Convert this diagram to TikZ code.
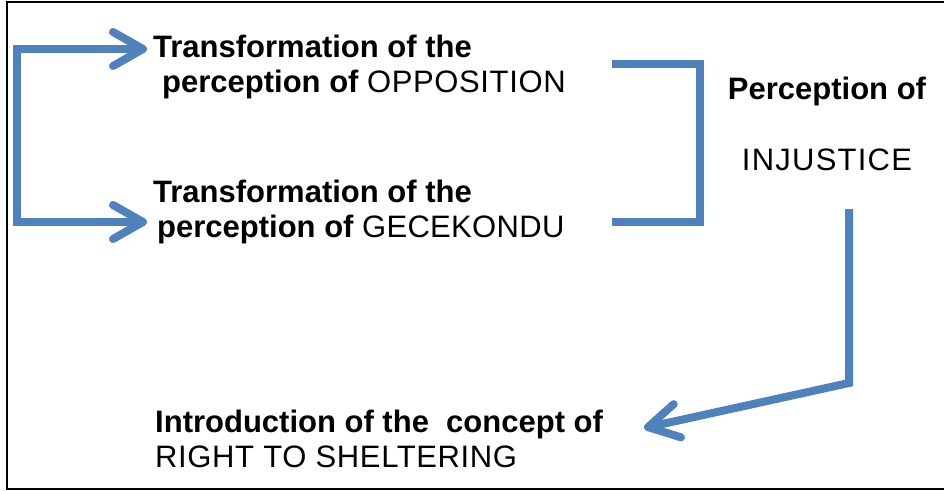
\documentclass[tikz,border=0pt]{standalone}
\usepackage{fontspec}
\setmainfont{Liberation Sans}
\usetikzlibrary{arrows.meta,calc}
\definecolor{flowblue}{HTML}{4F81BD}
% upright capitals with a touch of tracking
\newcommand{\capsword}[2][2]{{\mdseries\addfontfeature{LetterSpace=#1}#2}}
\begin{document}
\begin{tikzpicture}[x=1pt,y=-1pt,
  txt/.style={inner sep=0pt, font=\fontsize{31}{35}\selectfont},
  flow/.style={draw=flowblue, line width=8pt},
  barbs/.style={{Straight Barb[length=30pt,width=34pt,round]}-{Straight Barb[length=30pt,width=34pt,round]}},
  barbend/.style={-{Straight Barb[length=30pt,width=34pt,round]}},
]
\useasboundingbox (0,0) rectangle (944,490);

% open frame: top, left and bottom edges
\draw[line width=2pt] (944,2) -- (7,2) -- (7,489) -- (944,489);

% texts
\node[txt, anchor=north west, align=left] (opp) at (153,35)
  {\bfseries Transformation of the\\\hspace*{9pt}\bfseries perception of \capsword{OPPOSITION}};
\node[txt, anchor=north west, align=left] (gec) at (153,180)
  {\bfseries Transformation of the\\\hspace*{4pt}\bfseries perception of \capsword[1]{GECEKONDU}};
\node[txt, anchor=north, align=center] (inj) at (827,77)
  {\bfseries Perception of\\[36pt]\capsword[4]{INJUSTICE}};
\node[txt, anchor=north west, align=left] (right) at (155,410)
  {\bfseries Introduction of the\ \ concept of\\\capsword{RIGHT TO SHELTERING}};

% left bracket feeding both transformations
\coordinate (lx) at (17,0);
\coordinate (ta) at ($(opp.north west)+(-6,14)$);
\coordinate (tb) at ($(gec.north west)+(-6,42)$);
\draw[flow, barbs] (ta) -- (ta -| lx) -- (tb -| lx) -- (tb);

% right bracket joining both transformations
\coordinate (bx) at (612,0);
\coordinate (rx) at (700,0);
\coordinate (ra) at ($(opp.north west)+(0,29)$);
\coordinate (rb) at ($(gec.north west)+(0,42)$);
\draw[flow] (ra -| bx) -- (ra -| rx) -- (rb -| rx) -- (rb -| bx);

% from injustice down to the right to sheltering
\coordinate (da) at ($(inj.south)+(22,38)$);
\coordinate (dc) at (849,383);
\coordinate (tip) at ($(right.north east)+(41,18)$);
\draw[flow, barbend] (da) -- (da |- dc) -- (tip);
\end{tikzpicture}
\end{document}
